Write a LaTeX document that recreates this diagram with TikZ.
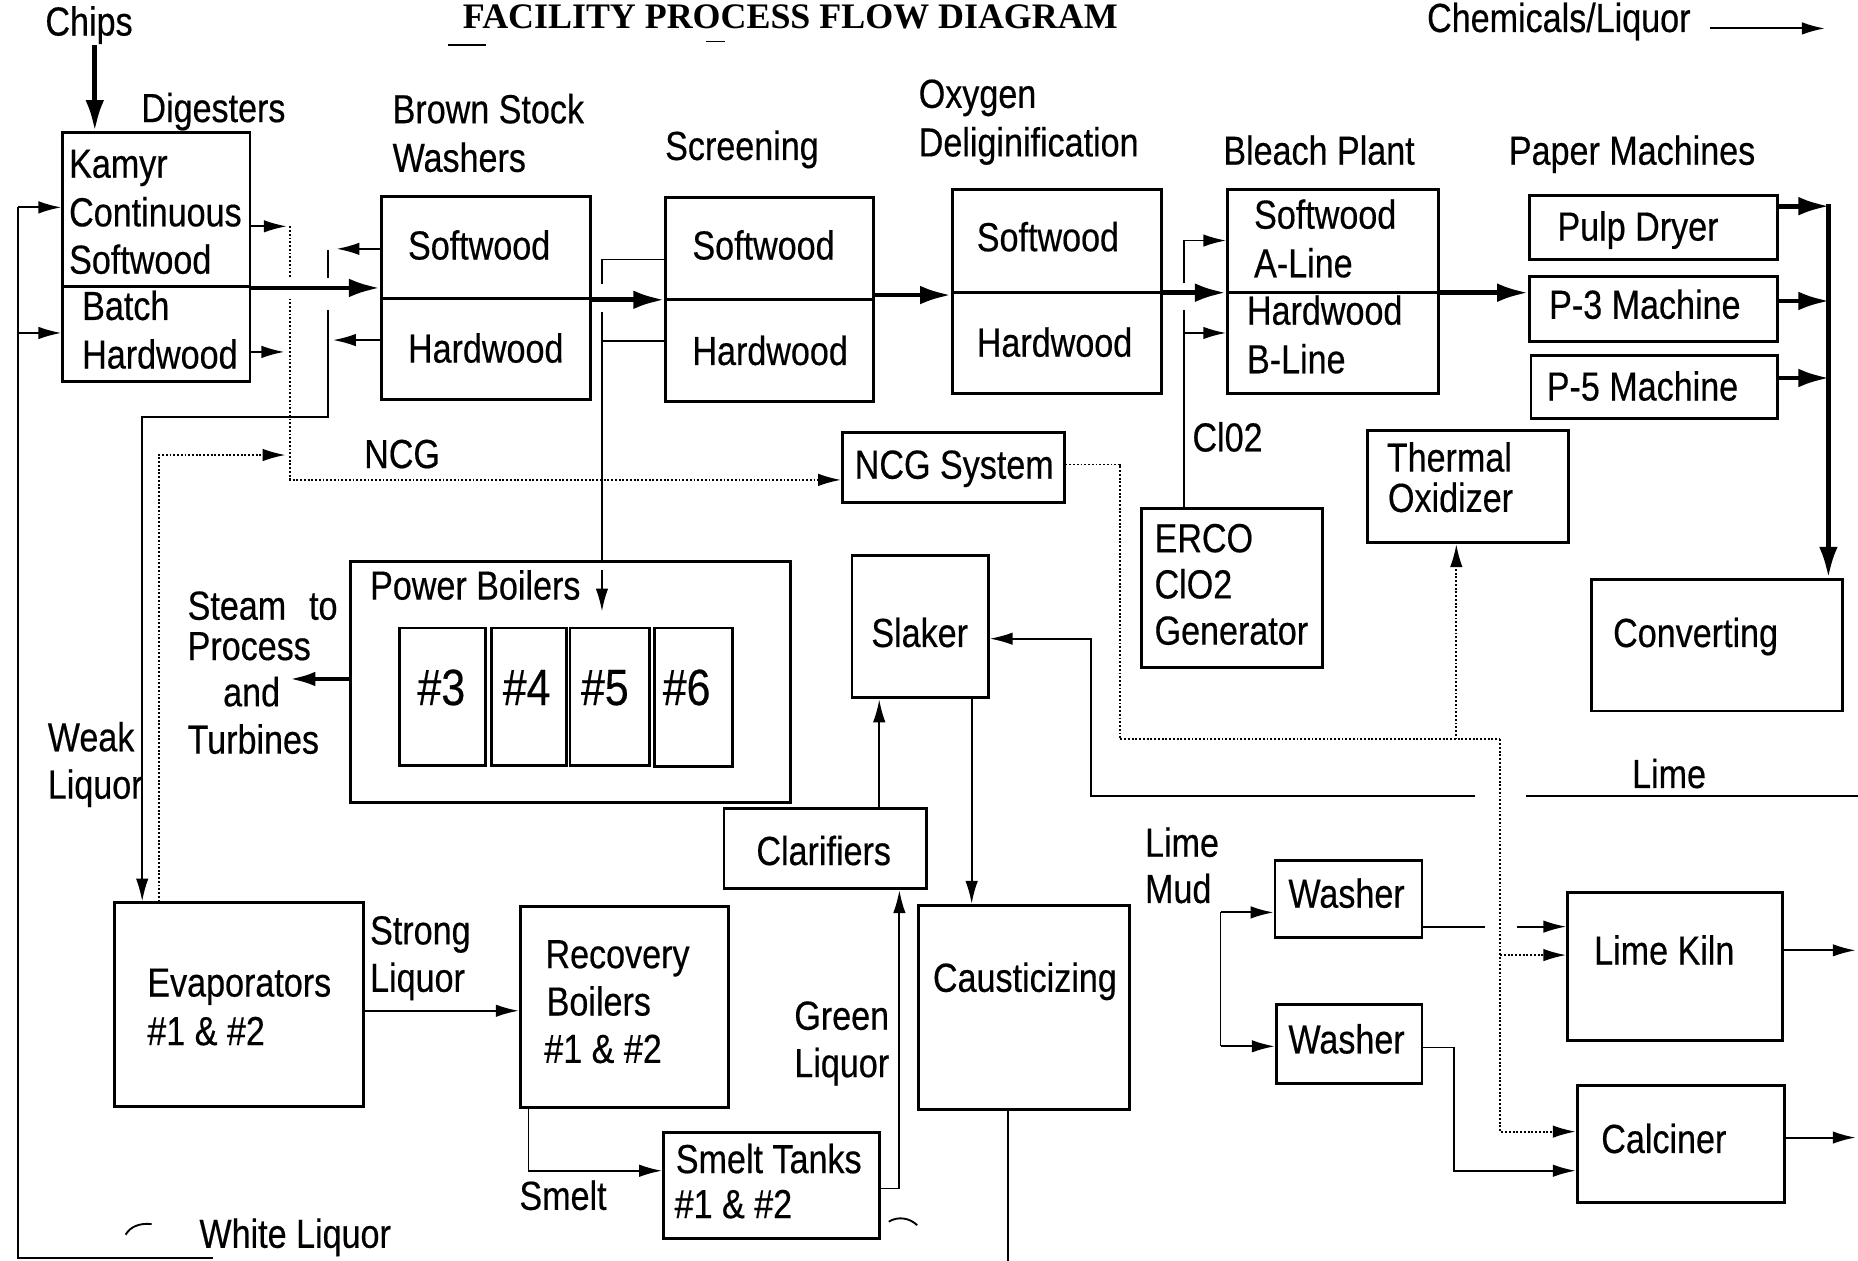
\documentclass[tikz,border=0pt]{standalone}
\usepackage{fontspec}
\setmainfont{Liberation Sans}[FakeStretch=0.84,FakeBold=0.4]
\newfontfamily\titlefont{Liberation Serif}
\usetikzlibrary{arrows.meta,fit}
\begin{document}
\begin{tikzpicture}[x=0.02cm,y=-0.02cm,
  box/.style={draw,line width=1.4pt,inner sep=0pt},
  lbl/.style={inner sep=0pt,anchor=base west,font=\fontsize{19.5}{22}\selectfont},
  big/.style={inner sep=0pt,anchor=base west,font=\fontsize{24.5}{27}\selectfont},
  thin/.style={line width=0.9pt},
  thinarr/.style={thin,-{Latex[length=11pt,width=6pt]}},
  medarr/.style={line width=1.7pt,-{Latex[length=12pt,width=7pt]}},
  thickarr/.style={line width=2.3pt,-{Latex[length=15pt,width=9pt]}},
  dots/.style={line width=0.9pt,dash pattern=on 0.9pt off 0.9pt},
  dotarr/.style={dots,-{Latex[length=11pt,width=6pt]}},
  divider/.style={line width=1.4pt}
]
\useasboundingbox (0,0) rectangle (1568,1064);

% ---------- title & legend
\node[inner sep=0pt,anchor=base,font=\titlefont\bfseries\fontsize{17.25}{20}\selectfont] (title) at (667,24) {FACILITY PROCESS FLOW DIAGRAM};
\draw[thin] (378,38) -- (410,38);
\draw[thin] (596,35) -- (612,35);
\node[lbl] (tchem) at (1204,27) {Chemicals/Liquor};
\coordinate (legs) at (1443,24);
\coordinate (lege) at (1540,24);
\draw[thinarr] (legs) -- (lege);

% ---------- boxes
\node[box,fit={(53,112)(211,322)}] (dig) {};
\draw[divider] (53,242) -- (211,242);
\node[box,fit={(322,166)(498,337)}] (wash) {};
\draw[divider] (322,252) -- (498,252);
\node[box,fit={(562,167)(737,339)}] (scr) {};
\draw[divider] (562,253) -- (737,253);
\node[box,fit={(804,160)(980,332)}] (oxy) {};
\draw[divider] (804,247) -- (980,247);
\node[box,fit={(1036,160)(1214,332)}] (bleach) {};
\draw[divider] (1036,247) -- (1214,247);
\node[box,fit={(1291,165)(1500,219)}] (pulp) {};
\node[box,fit={(1291,233)(1500,288)}] (p3) {};
\node[box,fit={(1292,300)(1500,353)}] (p5) {};
\node[box,fit={(711,365)(898,424)}] (ncg) {};
\node[box,fit={(963,429)(1116,563)}] (erco) {};
\node[box,fit={(1154,363)(1324,458)}] (thox) {};
\node[box,fit={(1343,489)(1555,600)}] (conv) {};
\node[box,fit={(296,474)(667,677)}] (pb) {};
\node[box,fit={(337,530)(410,646)}] (b3) {};
\node[box,fit={(415,530)(478,646)}] (b4) {};
\node[box,fit={(481,530)(548,646)}] (b5) {};
\node[box,fit={(552,530)(618,647)}] (b6) {};
\node[box,fit={(719,469)(834,589)}] (slaker) {};
\node[box,fit={(611,682)(782,750)}] (clar) {};
\node[box,fit={(775,764)(953,936)}] (caus) {};
\node[box,fit={(97,762)(307,934)}] (evap) {};
\node[box,fit={(439,765)(615,935)}] (rec) {};
\node[box,fit={(560,956)(742,1045)}] (smelt) {};
\node[box,fit={(1076,726)(1200,791)}] (wa) {};
\node[box,fit={(1077,848)(1200,914)}] (wb) {};
\node[box,fit={(1323,753)(1504,878)}] (kiln) {};
\node[box,fit={(1331,916)(1506,1015)}] (calc) {};

% ---------- texts
\node[lbl] (tchips) at (38,30) {Chips};
\node[lbl] (tdig) at (119,103) {Digesters};
\node[lbl] (tkam) at (58,150) {Kamyr};
\node[lbl] (tcont) at (58,191) {Continuous};
\node[lbl] (tdsw) at (58,231) {Softwood};
\node[lbl] (tbatch) at (69,270) {Batch};
\node[lbl] (tdhw) at (69,311) {Hardwood};
\node[lbl] (tbrown) at (331,104) {Brown Stock};
\node[lbl] (twashers) at (331,145) {Washers};
\node[lbl] (twsw) at (344,219) {Softwood};
\node[lbl] (twhw) at (344,306) {Hardwood};
\node[lbl] (tscr) at (561,135) {Screening};
\node[lbl] (tssw) at (584,219) {Softwood};
\node[lbl] (tshw) at (584,308) {Hardwood};
\node[lbl] (toxy) at (775,91) {Oxygen};
\node[lbl] (tdel) at (775,132) {Deliginification};
\node[lbl] (tosw) at (824,212) {Softwood};
\node[lbl] (tohw) at (824,301) {Hardwood};
\node[lbl] (tbp) at (1032,139) {Bleach Plant};
\node[lbl] (tbsw) at (1058,193) {Softwood};
\node[lbl] (tal) at (1058,234) {A-Line};
\node[lbl] (tbhw) at (1052,274) {Hardwood};
\node[lbl] (tbl) at (1052,315) {B-Line};
\node[lbl] (tpm) at (1273,139) {Paper Machines};
\node[lbl] (tpulp) at (1314,203) {Pulp Dryer};
\node[lbl] (tp3) at (1307,269) {P-3 Machine};
\node[lbl] (tp5) at (1305,338) {P-5 Machine};
\node[lbl] (tncg) at (307,395) {NCG};
\node[lbl] (tncgs) at (721,404) {NCG System};
\node[lbl] (tclo) at (1006,381) {Cl02};
\node[lbl] (terco) at (974,466) {ERCO};
\node[lbl] (terco2) at (974,505) {ClO2};
\node[lbl] (tgen) at (974,544) {Generator};
\node[lbl] (tther) at (1170,398) {Thermal};
\node[lbl] (toxid) at (1171,432) {Oxidizer};
\node[lbl] (tconv) at (1361,546) {Converting};
\node[lbl] (tpb) at (312,506) {Power Boilers};
\node[big] (t3) at (352,595) {\#3};
\node[big] (t4) at (424,595) {\#4};
\node[big] (t5) at (490,595) {\#5};
\node[big] (t6) at (559,595) {\#6};
\node[lbl] (tsteam) at (158,523) {Steam\hspace{11pt}to};
\node[lbl] (tproc) at (158,557) {Process};
\node[lbl] (tand) at (188,596) {and};
\node[lbl] (tturb) at (158,636) {Turbines};
\node[lbl] (tweak) at (40,634) {Weak};
\node[lbl] (twliq) at (40,674) {Liquor};
\node[lbl] (tevap) at (124,841) {Evaporators};
\node[lbl] (tevn) at (124,882) {\#1 \& \#2};
\node[lbl] (tstrong) at (312,797) {Strong};
\node[lbl] (tsliq) at (312,837) {Liquor};
\node[lbl] (trec) at (460,817) {Recovery};
\node[lbl] (tboil) at (461,857) {Boilers};
\node[lbl] (trecn) at (459,897) {\#1 \& \#2};
\node[lbl] (tsmeltl) at (438,1021) {Smelt};
\node[lbl] (twhite) at (168,1053) {White Liquor};
\node[lbl] (tslak) at (735,546) {Slaker};
\node[lbl] (tclar) at (638,730) {Clarifiers};
\node[lbl] (tgreen) at (670,869) {Green};
\node[lbl] (tgliq) at (670,909) {Liquor};
\node[lbl] (tcaus) at (787,837) {Causticizing};
\node[lbl] (tsmt) at (570,990) {Smelt Tanks};
\node[lbl] (tsmn) at (569,1028) {\#1 \& \#2};
\node[lbl] (tlm1) at (966,723) {Lime};
\node[lbl] (tlm2) at (966,762) {Mud};
\node[lbl] (twa) at (1087,766) {Washer};
\node[lbl] (twb) at (1087,889) {Washer};
\node[lbl] (tlime) at (1377,665) {Lime};
\node[lbl] (tkiln) at (1345,814) {Lime Kiln};
\node[lbl] (tcalc) at (1351,973) {Calciner};

% ---------- connectors
% chips
\coordinate (chipsfoot) at (80,38);
\draw[thickarr] (chipsfoot) -- (chipsfoot |- dig.north);
% white liquor return (left)
\coordinate (fbtop) at (15,175);
\coordinate (fbbot) at (15,1062);
\coordinate (wlend) at (180,1062);
\draw[thin] (fbtop) -- (fbbot) -- (wlend);
\draw[thinarr] (fbtop) -- (dig.west |- fbtop);
\draw[thinarr] (15,281) -- (dig.west |- 0,281);
% digester vents
\draw[thinarr] (dig.east |- 0,191) -- (242,191);
\draw[thinarr] (dig.east |- 0,297) -- (240,297);
% NCG dotted
\draw[dots] (245,191) -- (245,235);
\draw[dotarr] (245,252) -- (245,405) -- (ncg.west |- 0,405);
\draw[dotarr] (evap.north -| 134,0) -- (134,384) -- (241,384);
% weak liquor
\draw[thinarr] (wash.west |- 0,210) -- (284,210);
\draw[thinarr] (wash.west |- 0,287) -- (281,287);
\draw[thin] (277,211) -- (277,235);
\draw[thinarr] (277,262) -- (277,352) -- (120,352) -- (evap.north -| 120,0);
% main pulp flow
\draw[thickarr] (dig.east |- 0,243) -- (wash.west |- 0,243);
\draw[thickarr] (wash.east |- 0,253) -- (scr.west |- 0,253);
\draw[thickarr] (scr.east |- 0,249) -- (oxy.west |- 0,249);
\draw[thickarr] (oxy.east |- 0,247) -- (bleach.west |- 0,247);
\draw[thickarr] (bleach.east |- 0,247) -- (p3.west |- 0,247);
% screen rejects to power boilers
\draw[thin] (scr.west |- 0,219) -- (508,219) -- (508,240);
\draw[thin] (scr.west |- 0,288) -- (508,288);
\draw[thin] (508,263) -- (pb.north -| 508,0);
\draw[thinarr] (508,481) -- (508,516);
% ClO2
\draw[thin] (erco.north -| 999,0) -- (999,262);
\draw[thinarr] (999,239) -- (999,203) -- (bleach.west |- 0,203);
\draw[thinarr] (999,281) -- (bleach.west |- 0,281);
% paper machines to converting
\draw[thickarr] (pulp.east |- 0,174) -- (1544,174);
\draw[thickarr] (p3.east |- 0,254) -- (1544,254);
\draw[thickarr] (p5.east |- 0,319) -- (1544,319);
\draw[thickarr] (1543,172) -- (conv.north -| 1543,0);
% steam
\draw[medarr] (pb.west |- 0,573) -- (245,573);
% NCG system out
\draw[dots] (ncg.east |- 0,392) -- (945,392) -- (945,624) -- (1266,624);
\draw[dotarr] (1229,624) -- (thox.south -| 1229,0);
\draw[dotarr] (1266,624) -- (1266,955) -- (calc.west |- 0,955);
\draw[dotarr] (1266,806) -- (kiln.west |- 0,806);
% lime to slaker
\draw[thin] (1568,672) -- (1288,672);
\draw[thinarr] (1245,672) -- (921,672) -- (921,539) -- (slaker.east |- 0,539);
% causticizing loop
\draw[thinarr] (clar.north -| 742,0) -- (slaker.south -| 742,0);
\draw[thinarr] (slaker.south -| 820,0) -- (caus.north -| 820,0);
\draw[thinarr] (smelt.east |- 0,1003) -- (759,1003) -- (clar.south -| 759,0);
\draw[thin] (caus.south -| 851,0) -- (851,1070);
% recovery
\draw[thinarr] (evap.east |- 0,853) -- (rec.west |- 0,853);
\draw[thinarr] (rec.south -| 446,0) -- (446,988) -- (smelt.west |- 0,988);
% lime mud
\draw[thin] (1030,770) -- (1030,883);
\draw[thinarr] (1030,770) -- (wa.west |- 0,770);
\draw[thinarr] (1030,883) -- (wb.west |- 0,883);
\draw[thin] (wa.east |- 0,782) -- (1253,782);
\draw[thinarr] (1280,782) -- (kiln.west |- 0,782);
\draw[thinarr] (wb.east |- 0,884) -- (1227,884) -- (1227,988) -- (calc.west |- 0,988);
\draw[thinarr] (kiln.east |- 0,802) -- (1566,802);
\draw[thinarr] (calc.east |- 0,960) -- (1566,960);
% small cut-off arcs
\draw[thin] (106,1042) .. controls (110,1035) and (118,1032) .. (128,1033);
\draw[thin] (750,1031) .. controls (758,1026) and (768,1028) .. (774,1034);
\end{tikzpicture}
\end{document}
